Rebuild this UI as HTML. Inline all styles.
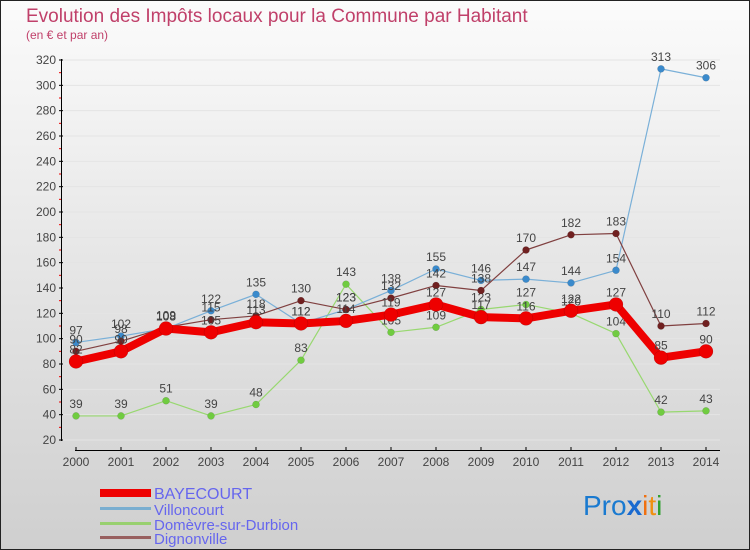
<!DOCTYPE html>
<html><head><meta charset="utf-8"><style>
body{margin:0;width:750px;height:550px;overflow:hidden}
svg{display:block}
text{font-family:"Liberation Sans",sans-serif}
</style></head><body>
<svg id="c" width="750" height="550">
<defs><linearGradient id="bg" x1="0" y1="0" x2="0" y2="1"><stop offset="0" stop-color="#fbfbfb"/><stop offset="1" stop-color="#cfcfcf"/></linearGradient></defs>
<rect x="0.5" y="0.5" width="749" height="549" fill="url(#bg)" stroke="#222"/>
<text x="26" y="22" font-size="19" fill="#c0406a">Evolution des Impôts locaux pour la Commune par Habitant</text>
<text x="26" y="39" font-size="12" fill="#c0406a">(en € et par an)</text>
<g id="grid"></g><g id="axes"></g><g id="series"></g>
<g>
<rect x="100" y="489" width="51" height="8" fill="#e00"/>
<text x="154" y="499" font-size="16" fill="#6666ee">BAYECOURT</text>
<rect x="100" y="507" width="51" height="3" fill="#7aaed0"/>
<text x="154" y="515" font-size="15" fill="#6666ee">Villoncourt</text>
<rect x="100" y="522" width="51" height="3" fill="#98d070"/>
<text x="154" y="530" font-size="15" fill="#6666ee">Domèvre-sur-Durbion</text>
<rect x="100" y="536" width="51" height="3" fill="#986060"/>
<text x="154" y="544" font-size="15" fill="#6666ee">Dignonville</text>
</g>
<g font-size="28">
<text x="583" y="515"><tspan fill="#1a7ad0">Pro</tspan><tspan fill="#1a6ad0" font-weight="bold">x</tspan><tspan fill="#f07010">i</tspan><tspan fill="#f09010">t</tspan><tspan fill="#30a030">i</tspan></text>
</g>
</svg>
<script>
const years=[2000,2001,2002,2003,2004,2005,2006,2007,2008,2009,2010,2011,2012,2013,2014];
const yTicks=[20,40,60,80,100,120,140,160,180,200,220,240,260,280,300,320];
const bayecourt=[82,90,108,105,113,112,114,119,127,117,116,122,127,85,90];
const villoncourt=[97,102,108,122,135,112,123,138,155,146,147,144,154,313,306];
const domevre=[39,39,51,39,48,83,143,105,109,123,127,120,104,42,43];
const dignonville=[90,98,109,115,118,130,123,132,142,138,170,182,183,110,112];
const NS="http://www.w3.org/2000/svg";
function xS(i){return 76+i*45;}
function yS(v){return 440-(v-20)*(380/300);}
function mk(tag,attrs,parent){const e=document.createElementNS(NS,tag);for(const k in attrs)e.setAttribute(k,attrs[k]);parent.appendChild(e);return e;}
const grid=document.getElementById('grid'),axes=document.getElementById('axes'),ser=document.getElementById('series');
yTicks.forEach(v=>{
 const g=mk('line',{x1:62,x2:720,y1:yS(v),y2:yS(v),stroke:'#e4e4e4','stroke-width':1},grid);
 
 
 mk('line',{x1:59,x2:63,y1:yS(v),y2:yS(v),stroke:'#000'},axes);
 if(v<320){mk('line',{x1:59,x2:62,y1:yS(v+10),y2:yS(v+10),stroke:'#e00'},axes);}
 const t=mk('text',{x:56,y:yS(v)+4,'font-size':12,fill:'#444','text-anchor':'end'},axes);
 t.textContent=v;
 
 
});
mk('line',{x1:61.5,x2:61.5,y1:59,y2:441,stroke:'#000'},axes);
mk('line',{x1:75,x2:720,y1:450.5,y2:450.5,stroke:'#000'},axes);
years.forEach((y,i)=>{
 mk('line',{x1:xS(i),x2:xS(i),y1:447,y2:451,stroke:'#000'},axes);
 const t=mk('text',{x:xS(i),y:466,'font-size':12,fill:'#444','text-anchor':'middle'},axes);
 t.textContent=y;
 
 
});
function draw(vals,color,mcolor,w,r,name){
 const g=mk('g',{},ser);
 
 
 const p=mk('polyline',{points:vals.map((v,i)=>xS(i)+','+yS(v)).join(' '),fill:'none',stroke:color,'stroke-width':w,'stroke-linejoin':'round'},g);
 
 
 vals.forEach((v,i)=>{
  const c=mk('circle',{cx:xS(i),cy:yS(v),r:r,fill:mcolor,stroke:'#0003','stroke-width':0.5},g);
  
  
  const t=mk('text',{x:xS(i),y:yS(v)-8,'font-size':12,fill:'#444','text-anchor':'middle'},g);
  t.textContent=v;
  
  
 });
}
draw(domevre,'#98d870','#70cc40',1.2,3.5,'domevre');
draw(villoncourt,'#7ab0d8','#3a8acc',1.2,3.5,'villoncourt');
draw(dignonville,'#804040','#702020',1.2,3.5,'dignonville');
draw(bayecourt,'#ee0000','#ee0000',8,7,'bayecourt');
</script>
</body></html>
